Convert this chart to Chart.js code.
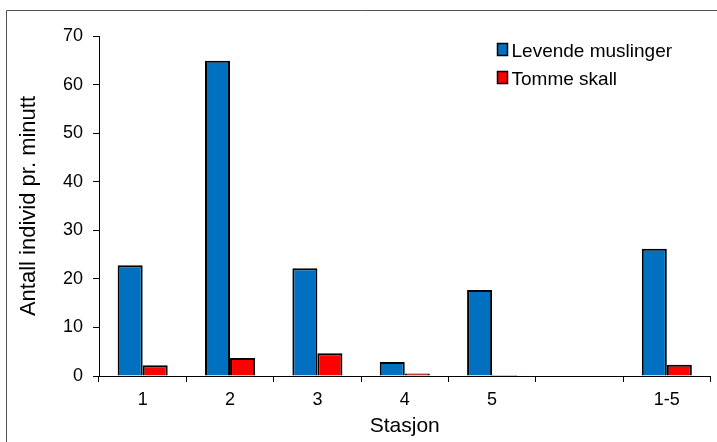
<!DOCTYPE html>
<html>
<head>
<meta charset="utf-8">
<script src="https://cdn.jsdelivr.net/npm/chart.js@4/dist/chart.umd.min.js"></script>
<style>
  html, body { margin: 0; padding: 0; background: #ffffff; }
  #wrap { width: 717px; height: 442px; position: relative; }
</style>
</head>
<body>
<div id="wrap"><canvas id="c" width="717" height="442"></canvas></div>
<script>
// Stations along the x axis (the blank slot separates the single stations from the total)
const stations = ['1', '2', '3', '4', '5', '', '1-5'];
// Individuals per minute
const liveMussels = [22.8, 64.9, 22.2, 2.9, 17.7, null, 26.2];
const emptyShells = [2.2, 3.7, 4.7, 0.5, 0.2, null, 2.3];
const seriesNames = ['Levende muslinger', 'Tomme skall'];
const yTicks = [0, 10, 20, 30, 40, 50, 60, 70];

const FONT = "'Liberation Sans', Arial, sans-serif";

// White page with a thin frame along the top and left edges
const framePlugin = {
  id: 'frame',
  beforeDraw(chart) {
    const ctx = chart.ctx;
    ctx.save();
    ctx.fillStyle = '#ffffff';
    ctx.fillRect(0, 0, chart.width, chart.height);
    ctx.strokeStyle = '#505050';
    ctx.lineWidth = 1;
    ctx.beginPath();
    ctx.moveTo(6.5, chart.height);
    ctx.lineTo(6.5, 10.5);
    ctx.lineTo(chart.width, 10.5);
    ctx.stroke();
    ctx.restore();
  }
};

// Stacked legend in the upper right corner of the plot
const cornerLegend = {
  id: 'cornerLegend',
  afterDraw(chart) {
    const ctx = chart.ctx;
    ctx.save();
    ctx.font = '19px ' + FONT;
    ctx.textBaseline = 'alphabetic';
    ctx.textAlign = 'left';
    chart.data.datasets.forEach((ds, i) => {
      const bx = 497.5, by = 43.5 + i * 28;
      ctx.fillStyle = ds.backgroundColor;
      ctx.fillRect(bx, by, 10, 12);
      ctx.strokeStyle = '#000000';
      ctx.lineWidth = 1.5;
      ctx.strokeRect(bx, by, 10, 12);
      ctx.fillStyle = '#000000';
      ctx.fillText(ds.label, 511.5, by + 13);
    });
    ctx.restore();
  }
};

new Chart(document.getElementById('c'), {
  type: 'bar',
  data: {
    labels: stations,
    datasets: [
      {
        label: seriesNames[0],
        data: liveMussels,
        backgroundColor: '#0070C0',
        borderColor: '#000000',
        borderWidth: 2
      },
      {
        label: seriesNames[1],
        data: emptyShells,
        backgroundColor: '#FF0000',
        borderColor: '#000000',
        borderWidth: 2
      }
    ]
  },
  options: {
    responsive: false,
    animation: false,
    devicePixelRatio: 1,
    layout: { padding: { top: 36, right: 6.5, left: 0, bottom: 0 } },
    datasets: {
      bar: { categoryPercentage: 0.573, barPercentage: 1.0 }
    },
    plugins: {
      legend: { display: false },
      tooltip: { enabled: false }
    },
    scales: {
      x: {
        grid: {
          offset: true,
          drawOnChartArea: false,
          drawTicks: true,
          tickLength: 6,
          color: '#000000'
        },
        border: { display: true, color: '#000000', width: 1 },
        ticks: {
          color: '#000000',
          font: { family: FONT, size: 18 },
          padding: 7,
          maxRotation: 0
        },
        title: {
          display: true,
          text: 'Stasjon',
          color: '#000000',
          font: { family: FONT, size: 21 },
          padding: { top: 0, bottom: 3 }
        },
        afterFit(scale) { scale.height = 66; }
      },
      y: {
        min: 0,
        max: 70,
        afterBuildTicks(scale) { scale.ticks = yTicks.map(v => ({ value: v })); },
        grid: {
          drawOnChartArea: false,
          drawTicks: true,
          tickLength: 6,
          color: '#000000'
        },
        border: { display: true, color: '#000000', width: 1 },
        ticks: {
          color: '#000000',
          font: { family: FONT, size: 18 },
          padding: 10
        },
        title: {
          display: true,
          text: 'Antall individ pr. minutt',
          color: '#000000',
          font: { family: FONT, size: 22 },
          padding: { top: 16, bottom: 0 }
        },
        afterFit(scale) { scale.width = 99; }
      }
    }
  },
  plugins: [framePlugin, cornerLegend]
});
</script>
</body>
</html>
